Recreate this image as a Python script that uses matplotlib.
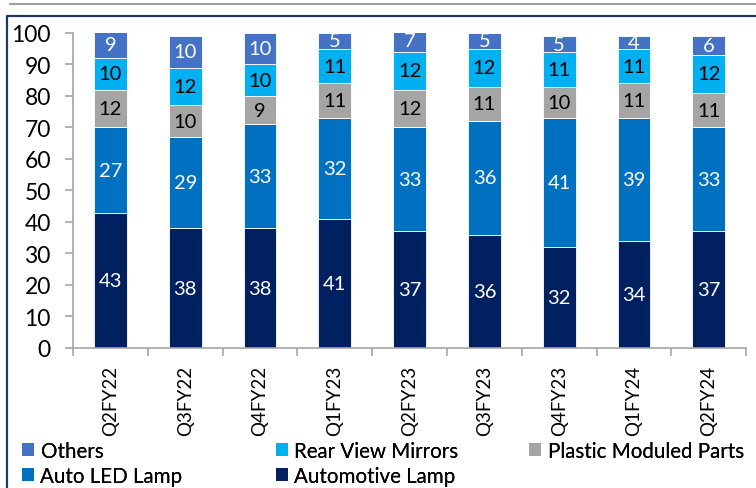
import matplotlib
matplotlib.use("Agg")
import matplotlib.pyplot as plt
from matplotlib.lines import Line2D
from matplotlib.patches import Patch
import numpy as np

plt.rcParams['font.family'] = ['Lato', 'DejaVu Sans']

quarters = ["Q2FY22", "Q3FY22", "Q4FY22", "Q1FY23", "Q2FY23",
            "Q3FY23", "Q4FY23", "Q1FY24", "Q2FY24"]
automotive_lamp = [43, 38, 38, 41, 37, 36, 32, 34, 37]
auto_led_lamp = [27, 29, 33, 32, 33, 36, 41, 39, 33]
plastic_parts = [12, 10, 9, 11, 12, 11, 10, 11, 11]
rear_view_mirrors = [10, 12, 10, 11, 12, 12, 11, 11, 12]
others = [9, 10, 10, 5, 7, 5, 5, 4, 6]

series = [
    ("Automotive Lamp", automotive_lamp, "#002060", "white"),
    ("Auto LED Lamp", auto_led_lamp, "#0070C0", "white"),
    ("Plastic Moduled Parts", plastic_parts, "#A5A5A5", "black"),
    ("Rear View Mirrors", rear_view_mirrors, "#00B0F0", "black"),
    ("Others", others, "#4472C4", "white"),
]

fig = plt.figure(figsize=(7.56, 4.89), dpi=100)
ax = fig.add_axes([0.0966, 0.2863, 0.987 - 0.0966, 0.9305 - 0.2863])

x = np.arange(len(quarters))
bottom = np.zeros(len(quarters))
for name, vals, color, tcolor in series:
    vals = np.array(vals, dtype=float)
    ax.bar(x, vals, bottom=bottom, width=0.44, color=color,
           edgecolor="white", linewidth=0.6, label=name)
    for xi, b, v in zip(x, bottom, vals):
        mid = b + v / 2
        if mid > 100:
            mid = (b + 100) / 2
        ax.text(xi, mid, f"{int(v)}", ha="center", va="center",
                color=tcolor, fontsize=14.5)
    bottom += vals

ax.set_xlim(-0.5, len(quarters) - 0.5)
ax.set_ylim(0, 100)
ax.set_yticks(range(0, 101, 10))
ax.tick_params(axis="y", labelsize=16.5, length=6, width=1.2, color="#A6A6A6",
               direction="out", pad=10)
ax.set_xticks(x)
ax.set_xticklabels(quarters, rotation=90, fontsize=13.5)
ax.tick_params(axis="x", length=0, pad=12)
ax.set_xticks(np.arange(-0.5, len(quarters), 1), minor=True)
ax.tick_params(axis="x", which="minor", length=6, width=1.2, color="#A6A6A6")

for side in ("top", "right"):
    ax.spines[side].set_visible(False)
for side in ("left", "bottom"):
    ax.spines[side].set_color("#A6A6A6")
    ax.spines[side].set_linewidth(1.2)

# Legend laid out in three columns below the axis labels
colors = {name: color for name, _, color, _ in series}
columns = [["Others", "Auto LED Lamp"],
           ["Rear View Mirrors", "Automotive Lamp"],
           ["Plastic Moduled Parts"]]
col_x = [22 / 756, 276 / 756, 529 / 756]
for names, cx in zip(columns, col_x):
    handles = [Patch(facecolor=colors[n], edgecolor="none", label=n) for n in names]
    leg = fig.legend(handles=handles, loc="upper left",
                     bbox_to_anchor=(cx, 1 - 442 / 489), frameon=False,
                     fontsize=14.8, handlelength=0.6, handleheight=0.6,
                     handletextpad=0.3, labelspacing=0.22, borderpad=0,
                     borderaxespad=0)
    fig.add_artist(leg)

# Frame lines around the figure
fig.add_artist(Line2D([10 / 756, 1], [1 - 5 / 489, 1 - 5 / 489],
                      transform=fig.transFigure, color="#A0A0A0", lw=1.5))
fig.add_artist(Line2D([7 / 756, 7 / 756, 1], [0, 1 - 17 / 489, 1 - 17 / 489],
                      transform=fig.transFigure, color="#1F3864", lw=1.6))

fig.savefig("out.png", dpi=100)
